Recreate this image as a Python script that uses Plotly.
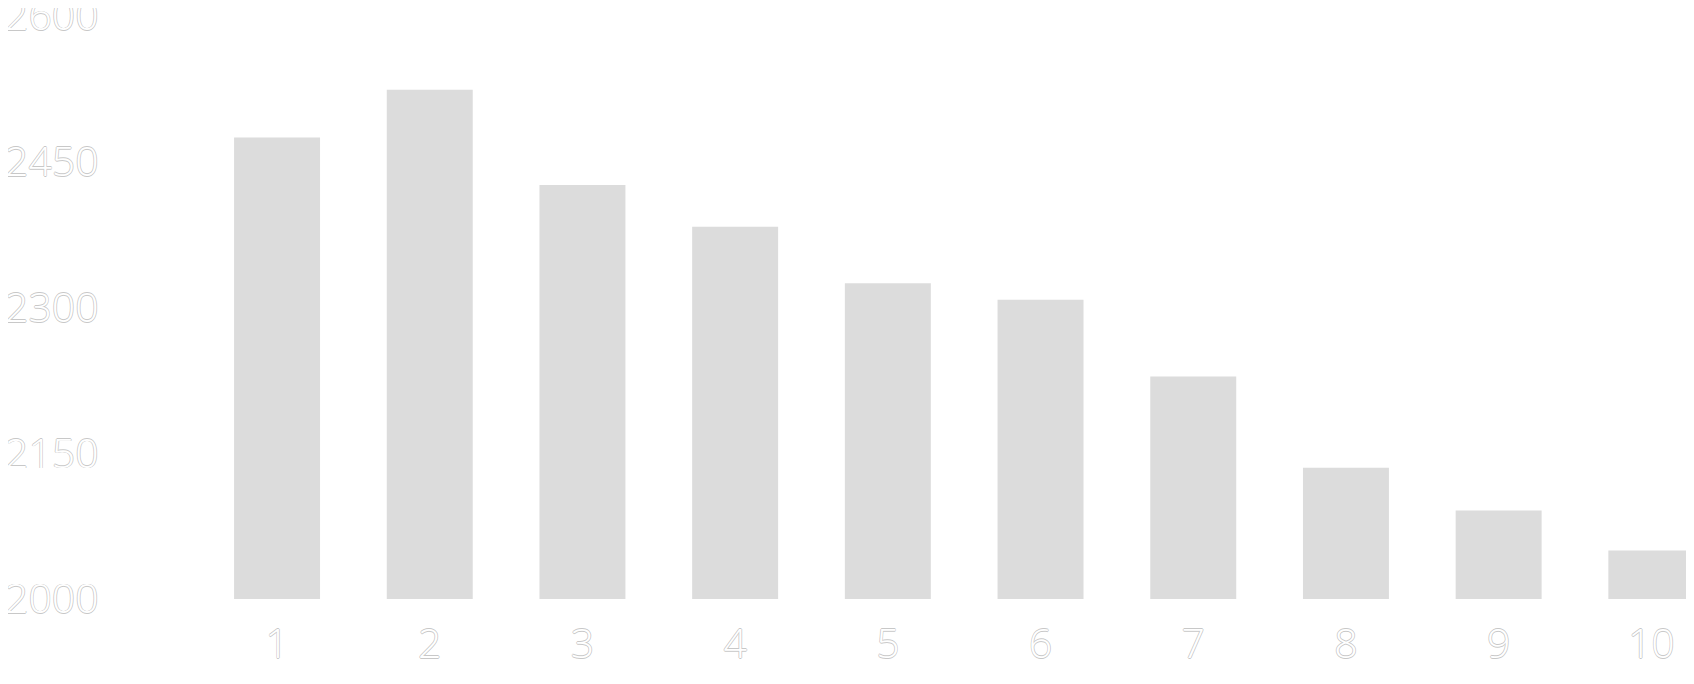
import plotly.graph_objs as go

# bar chart data
categories = ['1', '2', '3', '4', '5', '6', '7', '8', '9', '10']
values = [2475, 2524, 2426, 2383, 2325, 2308, 2229, 2135, 2091, 2050]
y_ticks = [2000, 2150, 2300, 2450, 2600]

# white digits with a thin grey outline
outline = '-0.7px 0 #c8c8c8, 0.7px 0 #c8c8c8, 0 -0.7px #c8c8c8, 0 0.7px #c8c8c8'
label_font = dict(family='Open Sans, Arial, sans-serif', size=41, weight=300,
                  color='white', shadow=outline)

trace0 = go.Bar(x=categories, y=values, marker=dict(color='#dcdcdc', line=dict(width=0)))

fig = go.Figure(data=[trace0])
# page body has an 8px margin, so the figure is a bit smaller than the window
fig.update_layout(
    width=1678, height=668,
    margin=dict(l=0, r=0, t=8, b=77),
    paper_bgcolor='white', plot_bgcolor='white',
    bargap=0.437,
    showlegend=False,
    xaxis=dict(type='category', range=[-1.762, 9.227], showgrid=False, zeroline=False,
               showline=False, ticks='', tickfont=label_font, ticklabelstandoff=17,
               ticklabeloverflow='allow', automargin=False),
    yaxis=dict(range=[2000, 2600], tickvals=y_ticks, showgrid=False, zeroline=False,
               showline=False, ticks='', side='right', anchor='free', position=0,
               tickfont=label_font, ticklabelstandoff=-4, ticklabeloverflow='allow',
               automargin=False),
)

fig.write_html("out.html")
